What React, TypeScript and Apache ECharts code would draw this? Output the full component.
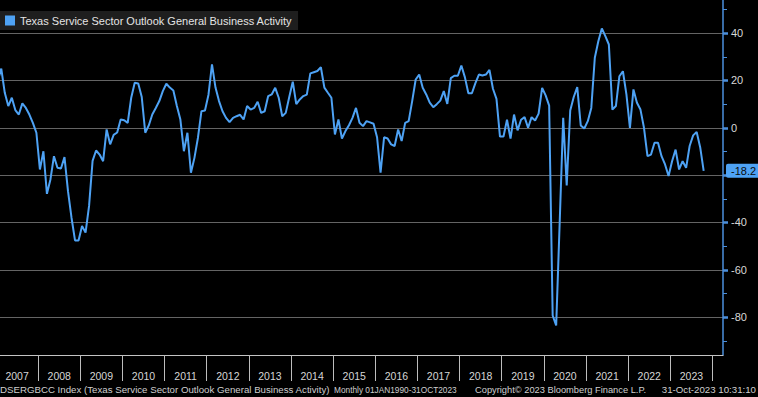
import React, { useEffect, useRef } from "react";
import * as echarts from "echarts";

// ---- data (monthly readings) ----
const v2007 = [20, 25, 14.8, 9.2, 12.7, 7.5, 5.6, 10.3, 8.4, 5.6, 2.1, -2.1];
const v2008 = [-17.6, -9.9, -27.9, -21.8, -12.0, -16.9, -17.2, -12.4, -26.8, -38.0, -47.6, -47.6];
const v2009 = [-41.5, -44.3, -33.0, -14.0, -9.6, -11.3, -14.1, -0.7, -7.0, -3.0, -2.0, 3.5];
const v2010 = [3.2, 2.1, 12.7, 19.0, 18.7, 13.0, -2.1, 1.0, 5.6, 8.4, 11.3, 15.5];
const v2011 = [18.6, 17.0, 15.8, 9.2, 3.5, -9.9, -2.1, -19.0, -12.7, -4.2, 7.0, 7.3];
const v2012 = [14.0, 26.8, 17.0, 11.3, 7.0, 4.2, 2.4, 4.2, 4.9, 5.5, 3.5, 9.2];
const v2013 = [7.7, 8.4, 11.0, 6.3, 7.0, 13.4, 14.1, 16.9, 12.7, 4.9, 6.3, 13.0];
const v2014 = [19.5, 10.0, 12.0, 13.4, 14.0, 23.0, 23.5, 24.0, 25.6, 17.0, 14.8, 12.7];
const v2015 = [-2.8, 3.5, -4.5, -1.4, 1.1, 4.2, 8.4, 2.1, 0.7, 2.8, 2.3, 1.7];
const v2016 = [-4.0, -19.0, -4.0, -4.5, -7.0, -7.7, -0.7, -5.6, 2.1, 2.8, 11.3, 20.4];
const v2017 = [22.5, 16.9, 14.1, 10.6, 8.7, 10.0, 11.5, 15.5, 10.1, 21.0, 22.0, 22.0];
const v2018 = [26.3, 21.4, 14.6, 14.6, 18.9, 22.5, 22.1, 22.5, 24.5, 16.5, 12.2, -3.7];
const v2019 = [-3.7, 3.4, -4.6, 5.6, -1.1, 3.4, 4.5, 0.0, 4.5, 3.1, 6.0, 16.9];
const v2020 = [13.7, 9.4, -79.3, -83.5, -40.0, 4.2, -24.4, 7.3, 13.0, 17.2, 1.0, -0.3];
const v2021 = [2.8, 8.4, 29.6, 36.6, 42.0, 38.7, 35.2, 7.7, 9.2, 21.8, 23.9, 14.1];
const v2022 = [0.0, 16.2, 10.6, 7.7, 0.0, -12.0, -11.3, -6.3, -6.3, -12.0, -15.5, -20.4];
const v2023 = [-14.1, -9.2, -17.6, -14.1, -16.9, -7.7, -3.2, -1.8, -8.2, -18.2];

const firstYear = 2007;
const axisEndYear = 2024; // axis right edge at the start of April 2024
const axisEndMonth = 3;
const yMajorTicks = [40, 20, 0, -20, -40, -60, -80];
const yMinorTicks = [50, 30, 10, -10, -30, -50, -70, -90];
const monthAbbr = ["Jan", "Feb", "Mar", "Apr", "May", "Jun", "Jul", "Aug", "Sep", "Oct", "Nov", "Dec"];

const seriesName = "Texas Service Sector Outlook General Business Activity";
const footerIndex = "DSERGBCC Index (Texas Service Sector Outlook General Business Activity)";
const footerPeriod = "Monthly 01JAN1990-31OCT2023";
const footerCopy = "Copyright\u00A9 2023 Bloomberg Finance L.P.";
const footerStamp = "31-Oct-2023 10:31:10";

const FONT = '"Liberation Sans", Arial, sans-serif';
const LINE = "#4ea2f4";
const AXIS_BLUE = "#4b8fdc";

const values = [
  ...v2007, ...v2008, ...v2009, ...v2010, ...v2011, ...v2012, ...v2013, ...v2014,
  ...v2015, ...v2016, ...v2017, ...v2018, ...v2019, ...v2020, ...v2021, ...v2022, ...v2023,
];
const lastValue = values[values.length - 1];
// the last-value tag covers the axis label that sits right under it
const yLabelValues = yMajorTicks.filter((v) => Math.abs(v - lastValue) > 5);

function buildMonths(count: number): string[] {
  const out: string[] = [];
  for (let i = 0; i < count; i++) {
    const y = firstYear + Math.floor(i / 12);
    out.push(monthAbbr[i % 12] + " " + y);
  }
  return out;
}
const monthsSpan = (axisEndYear - firstYear) * 12 + axisEndMonth; // bands Jan 2007 .. Mar 2024
const dataMonths = buildMonths(monthsSpan);
const edgeMonths = buildMonths(monthsSpan + 1);

const Y_MIN = -96;
const Y_MAX = 54;

function footerText(text: string, x: number, size: number, align: string) {
  return {
    type: "text",
    x,
    y: 389.5,
    style: {
      text,
      fill: "#cfcfcf",
      fontSize: size,
      fontFamily: FONT,
      align,
      verticalAlign: "middle",
      textAlign: align,
      textVerticalAlign: "middle",
    },
  };
}

function makeOption(): any {
  return {
    animation: false,
    backgroundColor: "#000000",
    textStyle: { fontFamily: FONT },
    grid: { left: -4, right: 35, top: 0, bottom: 42, containLabel: false, outerBoundsMode: "none" },
    legend: {
      show: true,
      left: 0,
      top: 11,
      data: [seriesName],
      icon: "rect",
      itemWidth: 10,
      itemHeight: 10,
      backgroundColor: "#1e1e1e",
      padding: [4, 6, 4, 5],
      selectedMode: false,
      textStyle: { color: "#e4e4e4", fontSize: 11, fontFamily: FONT },
    },
    xAxis: [
      {
        type: "category",
        data: dataMonths,
        boundaryGap: true,
        position: "bottom",
        axisLine: { show: true, onZero: false, lineStyle: { color: "#c4c4c4", width: 1 } },
        axisTick: { show: false },
        axisLabel: { show: false },
        splitLine: { show: false },
      },
      {
        type: "category",
        data: edgeMonths,
        boundaryGap: false,
        position: "bottom",
        axisLine: { show: false, onZero: false },
        axisTick: {
          show: true,
          interval: (i: number) => i % 12 === 0,
          length: 26,
          lineStyle: { color: "#bdbdbd", width: 1 },
        },
        axisLabel: {
          show: true,
          interval: (i: number) => i % 12 === 6,
          formatter: (v: string) => v.slice(-4),
          color: "#d6d6d6",
          fontSize: 10.5,
          fontFamily: FONT,
          margin: 15,
        },
        splitLine: { show: false },
      },
    ],
    yAxis: [
      {
        type: "value",
        position: "right",
        min: Y_MIN,
        max: Y_MAX,
        axisLine: { show: true, onZero: false, lineStyle: { color: AXIS_BLUE, width: 1.5 } },
        axisTick: { show: true, customValues: yMajorTicks, length: 5, lineStyle: { color: AXIS_BLUE, width: 2.5 } },
        axisLabel: { show: true, customValues: yLabelValues, color: "#d8d8d8", fontSize: 11, fontFamily: FONT, margin: 8 },
        splitLine: { show: true, lineStyle: { color: "#646464", width: 1 } },
      },
      {
        type: "value",
        position: "right",
        min: Y_MIN,
        max: Y_MAX,
        axisLine: { show: false, onZero: false },
        axisTick: { show: true, customValues: yMinorTicks, length: 4, lineStyle: { color: AXIS_BLUE, width: 1 } },
        axisLabel: { show: false },
        splitLine: { show: false },
      },
      {
        type: "value",
        position: "right",
        min: Y_MIN,
        max: Y_MAX,
        axisLine: { show: false, onZero: false },
        axisTick: { show: false },
        axisLabel: {
          show: true,
          customValues: [lastValue],
          formatter: (v: number) => Number(v).toFixed(1),
          color: "#0a0a0a",
          backgroundColor: LINE,
          padding: [2, 6, 1, 5],
          borderRadius: 2,
          fontSize: 11,
          fontFamily: FONT,
          margin: 3,
        },
        splitLine: { show: false },
      },
    ],
    series: [
      {
        type: "line",
        name: seriesName,
        data: values,
        xAxisIndex: 0,
        yAxisIndex: 0,
        showSymbol: false,
        symbol: "none",
        lineStyle: { color: LINE, width: 2 },
        itemStyle: { color: LINE },
        z: 3,
      },
    ],
    graphic: [
      footerText(footerIndex, 0, 9.7, "left"),
      footerText(footerPeriod, 334, 8.3, "left"),
      footerText(footerCopy, 475, 9.3, "left"),
      footerText(footerStamp, 756, 9.7, "right"),
    ],
  };
}

export default function App() {
  const ref = useRef<HTMLDivElement>(null);
  useEffect(() => {
    if (!ref.current) return;
    const chart = echarts.init(ref.current, undefined, { renderer: "svg" });
    chart.setOption(makeOption());
    return () => {
      chart.dispose();
    };
  }, []);
  return (
    <div
      ref={ref}
      style={{ position: "fixed", left: 0, top: 0, width: 758, height: 397, background: "#000000" }}
    />
  );
}
